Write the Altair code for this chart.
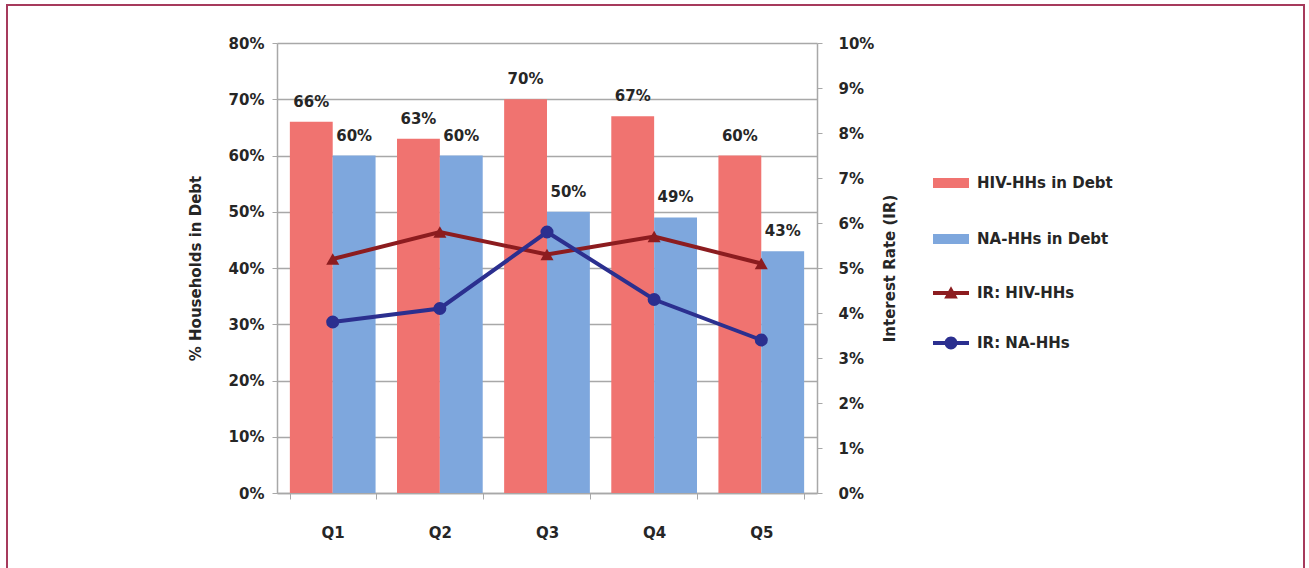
import altair as alt
import pandas as pd

# ---- data -------------------------------------------------------------
quintiles = ["Q1", "Q2", "Q3", "Q4", "Q5"]
hiv_debt = [0.66, 0.63, 0.70, 0.67, 0.60]
na_debt = [0.60, 0.60, 0.50, 0.49, 0.43]
hiv_rate = [0.052, 0.058, 0.053, 0.057, 0.051]
na_rate = [0.038, 0.041, 0.058, 0.043, 0.034]

bar_series = ["HIV-HHs in Debt", "NA-HHs in Debt"]
line_series = ["IR: HIV-HHs", "IR: NA-HHs"]

debt_df = pd.DataFrame(
    {
        "quintile": quintiles * 2,
        "series": [bar_series[0]] * 5 + [bar_series[1]] * 5,
        "share": hiv_debt + na_debt,
    }
)
rate_df = pd.DataFrame(
    {
        "quintile": quintiles * 2,
        "series": [line_series[0]] * 5 + [line_series[1]] * 5,
        "rate": hiv_rate + na_rate,
    }
)

# ---- style ------------------------------------------------------------
FONT = "DejaVu Sans"
TEXT = "#262626"
RED_BAR, BLUE_BAR = "#f07370", "#7ea7dd"
RED_LINE, BLUE_LINE = "#8c1c1f", "#2b2f8f"
GRID = "#a8a8a8"

PLOT_W, PLOT_H = 540, 450
LEFT, TOP = 277, 43

# legend glyphs (unit box, scaled by sqrt(symbolSize)/2); all sub-paths
# share the same winding so the overlaps stay filled
BAR_GLYPH = "M-1,-0.28H1V0.28H-1Z"
TRI_GLYPH = "M-1,-0.11H1V0.11H-1Z M-0.38,0.3L0,-0.38L0.38,0.3Z"
DOT_GLYPH = ("M-1,-0.11H1V0.11H-1Z M-0.36,0a0.36,0.36 0 1,1 0.72,0"
             "a0.36,0.36 0 1,1 -0.72,0Z")

LEGEND_TEXT = dict(
    title=None, orient="none", legendX=656,
    symbolSize=1296, symbolStrokeWidth=0, symbolOpacity=1,
    labelFont=FONT, labelFontSize=15, labelFontWeight="bold",
    labelColor=TEXT, labelOffset=8, padding=0,
)

x_enc = alt.X(
    "quintile:N",
    sort=quintiles,
    scale=alt.Scale(paddingInner=0.2, paddingOuter=0.12),
    axis=alt.Axis(
        title=None,
        labelFont=FONT, labelFontSize=15, labelFontWeight="bold",
        labelColor=TEXT, labelPadding=26, labelAngle=0,
        tickBand="extent", tickSize=6, tickColor=GRID,
        domainColor=GRID, domainWidth=1.5, grid=False,
    ),
)

# border framing the figure
frame = (
    alt.Chart(pd.DataFrame({"k": [0]}))
    .mark_rect(fill=None, stroke="#a63a5c", strokeWidth=2)
    .encode(
        x=alt.value(7 - LEFT), x2=alt.value(1304 - LEFT),
        y=alt.value(5 - TOP), y2=alt.value(620 - TOP),
    )
)

bars = (
    alt.Chart(debt_df)
    .mark_bar()
    .encode(
        x=x_enc,
        xOffset=alt.XOffset("series:N", sort=bar_series),
        y=alt.Y(
            "share:Q",
            scale=alt.Scale(domain=[0, 0.8], nice=False),
            axis=alt.Axis(
                title="% Households in Debt",
                values=[i / 10 for i in range(9)], format=".0%",
                labelFont=FONT, labelFontSize=15, labelFontWeight="bold",
                labelColor=TEXT, labelPadding=8,
                titleFont=FONT, titleFontSize=15, titleFontWeight="bold",
                titleColor=TEXT, titlePadding=25,
                grid=True, gridColor=GRID, gridWidth=1.5,
                tickSize=5, tickColor=GRID, domainColor=GRID, domainWidth=1.5,
            ),
        ),
        color=alt.Color(
            "series:N",
            scale=alt.Scale(domain=bar_series, range=[RED_BAR, BLUE_BAR]),
            legend=alt.Legend(legendY=122, symbolType=BAR_GLYPH,
                              rowPadding=30, **LEGEND_TEXT),
        ),
    )
)

bar_labels = (
    alt.Chart(debt_df)
    .mark_text(font=FONT, fontSize=15, fontWeight="bold", color=TEXT,
               baseline="alphabetic", dy=-15)
    .encode(
        x=x_enc,
        xOffset=alt.XOffset("series:N", sort=bar_series),
        y=alt.Y("share:Q"),
        text=alt.Text("share:Q", format=".0%"),
    )
)

left = alt.layer(bars, bar_labels)

y_rate = alt.Y(
    "rate:Q",
    scale=alt.Scale(domain=[0, 0.10], nice=False),
    axis=alt.Axis(
        orient="right", title="Interest Rate (IR)",
        values=[i / 100 for i in range(11)], format=".0%",
        labelFont=FONT, labelFontSize=15, labelFontWeight="bold",
        labelColor=TEXT, labelPadding=16,
        titleFont=FONT, titleFontSize=15, titleFontWeight="bold",
        titleColor=TEXT, titlePadding=24, titleAngle=-90,
        grid=False, tickSize=5, tickColor=GRID,
        domainColor=GRID, domainWidth=1.5,
    ),
)

lines = (
    alt.Chart(rate_df)
    .mark_line(strokeWidth=4)
    .encode(
        x=x_enc,
        y=y_rate,
        detail="series:N",
        stroke=alt.Stroke(
            "series:N",
            scale=alt.Scale(domain=line_series, range=[RED_LINE, BLUE_LINE]),
            legend=None,
        ),
    )
)

# each marker layer carries a one-entry legend of its own
hiv_points = (
    alt.Chart(rate_df)
    .transform_filter(alt.datum.series == line_series[0])
    .mark_point(filled=True, shape="triangle-up", size=170, opacity=1)
    .encode(
        x=x_enc,
        y=y_rate,
        fill=alt.Fill(
            "series:N",
            scale=alt.Scale(domain=[line_series[0]], range=[RED_LINE]),
            legend=alt.Legend(legendY=232, symbolType=TRI_GLYPH,
                              symbolFillColor=RED_LINE, **LEGEND_TEXT),
        ),
    )
)

na_points = (
    alt.Chart(rate_df)
    .transform_filter(alt.datum.series == line_series[1])
    .mark_point(filled=True, shape="circle", size=170, color=BLUE_LINE)
    .encode(
        x=x_enc,
        y=y_rate,
        opacity=alt.Opacity(
            "series:N",
            scale=alt.Scale(domain=[line_series[1]], range=[1]),
            legend=alt.Legend(legendY=282, symbolType=DOT_GLYPH,
                              symbolFillColor=BLUE_LINE, **LEGEND_TEXT),
        ),
    )
)

right = alt.layer(lines, hiv_points, na_points)

chart = (
    alt.layer(frame, left, right)
    .resolve_scale(y="independent")
    .properties(
        width=PLOT_W,
        height=PLOT_H,
        autosize=alt.AutoSizeParams(type="none"),
        padding={"left": LEFT, "top": TOP, "right": 1309 - LEFT - PLOT_W,
                 "bottom": 568 - TOP - PLOT_H},
        background="white",
    )
    .configure_view(stroke=None)
)

chart.save("out.html", embed_options={"renderer": "svg", "actions": False})
